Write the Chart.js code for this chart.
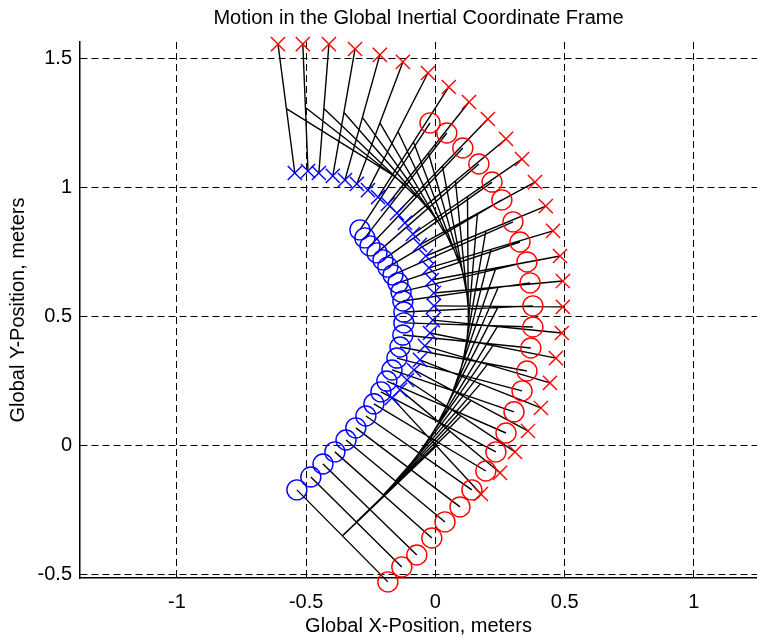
<!DOCTYPE html>
<html>
<head>
<meta charset="utf-8">
<script src="https://cdn.jsdelivr.net/npm/chart.js@4/dist/chart.umd.min.js"></script>
<style>
  html, body { margin: 0; padding: 0; background: #fff; }
  #wrap { width: 757px; height: 638px; }
</style>
</head>
<body>
<div id="wrap"><canvas id="motionChart" width="757" height="638"></canvas></div>
<script>
// wheel positions per time step (meters)
var frontRightX = [0.176, 0.250, 0.308, 0.358, 0.408, 0.443, 0.466, 0.489, 0.493, 0.493, 0.482, 0.455, 0.427,
                   0.385, 0.335, 0.273, 0.203, 0.130, 0.052, -0.029, -0.126, -0.215, -0.311, -0.412, -0.513, -0.609];
var frontRightY = [-0.187, -0.105, -0.024, 0.057, 0.146, 0.243, 0.339, 0.436, 0.537, 0.637, 0.734, 0.831, 0.927,
                   1.020, 1.109, 1.187, 1.264, 1.330, 1.388, 1.442, 1.485, 1.512, 1.535, 1.554, 1.554, 1.554];
var frontLeftX = [-0.168, -0.137, -0.110, -0.083, -0.060, -0.041, -0.021, -0.010, -0.006, -0.006, -0.014, -0.025, -0.037,
                  -0.060, -0.087, -0.118, -0.149, -0.184, -0.222, -0.261, -0.304, -0.350, -0.397, -0.451, -0.493, -0.544];
var frontLeftY = [0.185, 0.216, 0.254, 0.293, 0.332, 0.386, 0.436, 0.486, 0.541, 0.591, 0.641, 0.688, 0.734,
                  0.777, 0.819, 0.862, 0.900, 0.935, 0.962, 0.989, 1.013, 1.028, 1.044, 1.055, 1.063, 1.055];
var rearRightX = [-0.184, -0.130, -0.072, -0.014, 0.037, 0.095, 0.141, 0.195, 0.234, 0.273, 0.304, 0.335, 0.354,
                  0.369, 0.377, 0.377, 0.366, 0.354, 0.327, 0.300, 0.257, 0.219, 0.168, 0.106, 0.044, -0.021];
var rearRightY = [-0.527, -0.469, -0.423, -0.357, -0.295, -0.237, -0.171, -0.098, -0.024, 0.049, 0.131, 0.212, 0.289,
                  0.378, 0.459, 0.541, 0.630, 0.711, 0.788, 0.866, 0.951, 1.020, 1.090, 1.152, 1.210, 1.249];
var rearLeftX = [-0.536, -0.482, -0.435, -0.389, -0.346, -0.308, -0.269, -0.238, -0.211, -0.188, -0.168, -0.149, -0.137,
                 -0.126, -0.122, -0.122, -0.126, -0.133, -0.145, -0.164, -0.184, -0.203, -0.226, -0.253, -0.273, -0.292];
var rearLeftY = [-0.171, -0.121, -0.071, -0.024, 0.022, 0.069, 0.115, 0.162, 0.208, 0.250, 0.293, 0.339, 0.382,
                 0.428, 0.475, 0.517, 0.560, 0.595, 0.630, 0.661, 0.691, 0.719, 0.746, 0.773, 0.804, 0.835];

var xTicks = [-1, -0.5, 0, 0.5, 1];
var yTicks = [-0.5, 0, 0.5, 1, 1.5];

function pts(xs, ys) {
  return xs.map(function (x, i) { return { x: x, y: ys[i] }; });
}

// axles plus the body line between axle midpoints, broken with NaN
function buildSegments() {
  var out = [];
  var gap = { x: NaN, y: NaN };
  for (var i = 0; i < frontRightX.length; i++) {
    out.push({ x: rearLeftX[i], y: rearLeftY[i] }, { x: rearRightX[i], y: rearRightY[i] }, gap);
    out.push({ x: frontLeftX[i], y: frontLeftY[i] }, { x: frontRightX[i], y: frontRightY[i] }, gap);
    out.push({ x: (rearLeftX[i] + rearRightX[i]) / 2, y: (rearLeftY[i] + rearRightY[i]) / 2 },
             { x: (frontLeftX[i] + frontRightX[i]) / 2, y: (frontLeftY[i] + frontRightY[i]) / 2 }, gap);
  }
  return out;
}

var font = { family: "'Liberation Sans', Arial, sans-serif", size: 20, lineHeight: 1.2 };

function marker(data, style, color) {
  return {
    data: data,
    showLine: false,
    pointStyle: style,
    pointRadius: 10,
    pointBorderColor: color,
    pointBackgroundColor: 'rgba(0,0,0,0)',
    pointBorderWidth: 1.4,
    clip: false,
    order: 1
  };
}

function noPad(s) { s.paddingLeft = 0; s.paddingRight = 0; s.paddingTop = 0; s.paddingBottom = 0; }

var ctx = document.getElementById('motionChart').getContext('2d');
new Chart(ctx, {
  type: 'scatter',
  data: {
    datasets: [
      {
        data: buildSegments(),
        showLine: true,
        spanGaps: false,
        pointRadius: 0,
        borderColor: '#000',
        borderWidth: 1.4,
        tension: 0,
        clip: false,
        order: 2
      },
      marker(pts(rearLeftX, rearLeftY), 'circle', '#0000ff'),
      marker(pts(frontLeftX, frontLeftY), 'crossRot', '#0000ff'),
      marker(pts(rearRightX, rearRightY), 'circle', '#ff0000'),
      marker(pts(frontRightX, frontRightY), 'crossRot', '#ff0000')
    ]
  },
  options: {
    responsive: false,
    animation: false,
    events: [],
    devicePixelRatio: 1,
    layout: { padding: 0, autoPadding: false },
    plugins: {
      legend: { display: false },
      tooltip: { enabled: false },
      title: {
        display: true,
        text: 'Motion in the Global Inertial Coordinate Frame',
        color: '#000',
        font: { family: font.family, size: 20, weight: 'normal', lineHeight: 1.2 },
        fullSize: false,
        padding: { top: 6, bottom: 12 }
      }
    },
    scales: {
      x: {
        type: 'linear',
        min: -1.375,
        max: 1.244,
        afterBuildTicks: function (s) { s.ticks = xTicks.map(function (v) { return { value: v }; }); },
        afterFit: function (s) { s.height = 60; noPad(s); },
        ticks: { color: '#000', font: font, padding: 12, maxRotation: 0, callback: function (v) { return String(v); } },
        grid: { color: '#000', lineWidth: 1, drawTicks: false },
        border: { display: true, color: '#000', width: 1.5, dash: [7, 4] },
        title: { display: true, text: 'Global X-Position, meters', color: '#000', font: font, padding: { top: 0, bottom: 0 } }
      },
      y: {
        type: 'linear',
        min: -0.512,
        max: 1.562,
        afterBuildTicks: function (s) { s.ticks = yTicks.map(function (v) { return { value: v }; }); },
        afterFit: function (s) { s.width = 80; noPad(s); },
        ticks: { color: '#000', font: font, padding: 8, callback: function (v) { return String(v); } },
        grid: { color: '#000', lineWidth: 1, drawTicks: false },
        border: { display: true, color: '#000', width: 1.5, dash: [7, 4] },
        title: { display: true, text: 'Global Y-Position, meters', color: '#000', font: font, padding: { top: 6, bottom: 0 } }
      }
    }
  }
});
</script>
</body>
</html>
